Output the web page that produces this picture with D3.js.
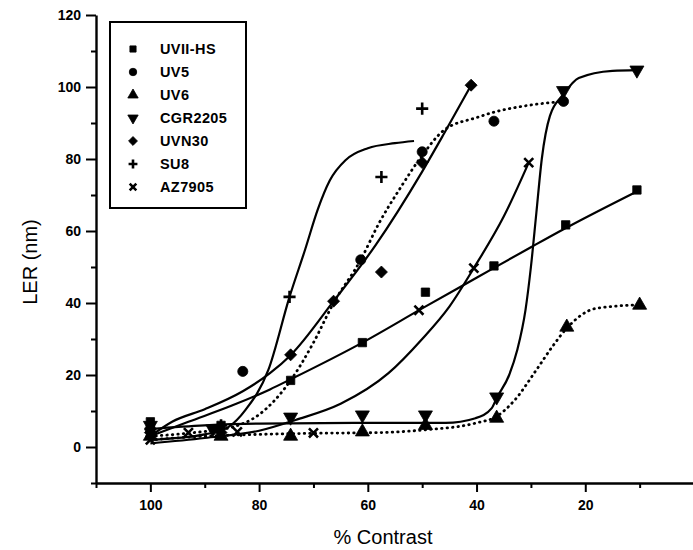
<!DOCTYPE html>
<html>
<head>
<meta charset="utf-8">
<script src="https://cdn.jsdelivr.net/npm/d3@7"></script>
<style>
  html, body { margin: 0; padding: 0; background: #fff; }
  svg { display: block; }
  text { font-family: "Liberation Sans", Arial, Helvetica, sans-serif; fill: #000; }
</style>
</head>
<body>
<svg id="chart" width="693" height="550"></svg>
<script>
// ---------- data ----------
const contrastMajorTicks = [100, 80, 60, 40, 20];
const contrastMinorTicks = [110, 90, 70, 50, 30, 10];
const lerMajorTicks = [0, 20, 40, 60, 80, 100, 120];
const lerMinorTicks = [-10, 10, 30, 50, 70, 90, 110];

const seriesNames = ["UVII-HS", "UV5", "UV6", "CGR2205", "UVN30", "SU8", "AZ7905"];
const seriesDotted = [false, true, true, false, false, false, false];

// measured points [contrast %, LER nm]
const uv2hsPoints = [[100, 7], [87, 6], [74.2, 18.5], [61, 29], [49.4, 43], [36.8, 50.3], [23.6, 61.7], [10.5, 71.4]];
const uv5Points = [[100, 5], [83, 21], [61.3, 52], [50, 82], [36.8, 90.5], [24, 96]];
const uv6Points = [[100, 3], [87, 3], [74.2, 3], [61, 4.2], [49.4, 6], [36.3, 8], [23.4, 33.3], [10, 39.4]];
const cgr2205Points = [[100, 6], [88.5, 5], [74.2, 8.3], [61, 8.9], [49.4, 8.9], [36.3, 13.9], [24, 99], [10.5, 104.7]];
const uvn30Points = [[100, 4], [87, 4], [74.2, 25.6], [66.3, 40.5], [57.5, 48.6], [50, 79], [41, 100.5]];
const su8Points = [[100, 5], [87, 6], [74.4, 41.7], [57.5, 75], [50, 94]];
const az7905Points = [[100, 2], [93, 4], [84, 4.2], [70, 3.9], [50.6, 38], [40.5, 49.7], [30.4, 79]];

// fitted curves drawn through the reference
const uv2hsFit = [[100, 3], [93, 7], [85, 11.5], [78, 16], [74.2, 18.8], [61, 29], [50, 38.5], [40, 47], [30, 55.5], [24, 60.5], [10.5, 71]];
const uv5Fit = [[100, 3], [92, 4], [85, 5.5], [80, 9], [74.2, 18.5], [70, 29], [66.3, 40], [61.3, 52], [58, 62], [54, 72], [50, 81], [46, 88], [40, 91.5], [36.8, 93], [30, 95], [24, 96]];
const uv6Fit = [[100, 2], [90, 3], [80, 3.5], [70, 3.8], [58, 4], [50, 4.7], [40, 6.7], [36.3, 8.5], [33, 13], [29, 21.4], [26, 28], [23.4, 33], [18, 38.5], [10, 39.5]];
const cgr2205Fit = [[100, 5], [90, 6], [80, 6.5], [58, 6.7], [45.7, 6.7], [40.2, 8], [37.2, 10.8], [36.3, 13.6], [34, 20], [32.5, 27], [31, 38], [30, 50], [29, 65], [28, 80], [26.5, 92], [24, 98], [21.2, 102.5], [15, 104.5], [10.5, 104.7]];
const uvn30Fit = [[100, 3], [96, 7], [90, 10.5], [83, 15.5], [78, 20.5], [74.2, 25.5], [66.3, 40.5], [58.6, 56], [50, 76.5], [46, 87], [41, 100.5]];
const su8Fit = [[100, 2], [90, 3.5], [85.6, 5.6], [82.5, 10.3], [78.3, 21.4], [74.4, 41.7], [71.5, 55], [69.2, 66], [67, 74], [64, 79.8], [60, 83], [55, 84.4], [51.5, 85]];
const az7905Fit = [[100, 1], [90, 2.5], [80, 4.5], [73.3, 7.5], [65, 12], [56.2, 20.5], [50, 30], [45, 39], [40.5, 49.7], [35, 64], [30.4, 79]];

const allPoints = [uv2hsPoints, uv5Points, uv6Points, cgr2205Points, uvn30Points, su8Points, az7905Points];
const allFits = [uv2hsFit, uv5Fit, uv6Fit, cgr2205Fit, uvn30Fit, su8Fit, az7905Fit];

// ---------- drawing ----------
const svg = d3.select("#chart");
const x = d3.scaleLinear().domain([110, 0]).range([96, 694]);
const y = d3.scaleLinear().domain([-10, 120]).range([483, 15]);

const shapeDefs = [
  { type: d3.symbolSquare, rot: 0, fill: true, size: 70 },
  { type: d3.symbolCircle, rot: 0, fill: true, size: 80 },
  { type: d3.symbolTriangle, rot: 0, fill: true, size: 85 },
  { type: d3.symbolTriangle, rot: 180, fill: true, size: 85 },
  { type: d3.symbolSquare, rot: 45, fill: true, size: 72 },
  { type: d3.symbolPlus || d3.symbolCross, rot: 0, fill: false, size: 50 },
  { type: d3.symbolX || d3.symbolCross, rot: d3.symbolX ? 0 : 45, fill: false, size: 55 }
];
function drawSymbol(g, i, cx, cy, scale) {
  const s = shapeDefs[i];
  const p = g.append("path")
    .attr("d", d3.symbol().type(s.type).size(s.size * scale)())
    .attr("transform", `translate(${cx},${cy}) rotate(${s.rot})`);
  if (s.fill) p.attr("fill", "#000").attr("stroke", "#000").attr("stroke-width", 0.8);
  else p.attr("fill", "none").attr("stroke", "#000").attr("stroke-width", 2.6);
}

const axisStyle = g => {
  g.selectAll(".domain").attr("stroke", "#000").attr("stroke-width", 2.4);
  g.selectAll(".tick line").attr("stroke", "#000").attr("stroke-width", 2);
  g.selectAll(".tick text").attr("font-size", 14).attr("font-weight", "bold")
    .style("font-family", '"Liberation Sans", Arial, sans-serif');
};

svg.append("g").attr("transform", `translate(0,${y(-10)})`)
  .call(d3.axisBottom(x).tickValues(contrastMinorTicks).tickSize(5).tickSizeOuter(0).tickFormat(""))
  .call(axisStyle);
svg.append("g").attr("transform", `translate(0,${y(-10)})`)
  .call(d3.axisBottom(x).tickValues(contrastMajorTicks).tickSize(9).tickSizeOuter(0).tickPadding(8).tickFormat(d3.format("d")))
  .call(axisStyle)
  .call(g => g.select(".domain").remove());

svg.append("g").attr("transform", `translate(${x(110)},0)`)
  .call(d3.axisLeft(y).tickValues(lerMinorTicks).tickSize(5).tickSizeOuter(0).tickFormat(""))
  .call(axisStyle);
svg.append("g").attr("transform", `translate(${x(110)},0)`)
  .call(d3.axisLeft(y).tickValues(lerMajorTicks).tickSize(10).tickSizeOuter(0).tickPadding(5).tickFormat(d3.format("d")))
  .call(axisStyle)
  .call(g => g.select(".domain").remove());

svg.append("text").attr("x", 383).attr("y", 544).attr("text-anchor", "middle")
  .attr("font-size", 20).text("% Contrast");
svg.append("text").attr("transform", "translate(37,262) rotate(-90)").attr("text-anchor", "middle")
  .attr("font-size", 20).text("LER (nm)");

const line = d3.line().x(d => x(d[0])).y(d => y(d[1])).curve(d3.curveMonotoneX);
allFits.forEach((fit, i) => {
  const sorted = fit.slice().sort((a, b) => b[0] - a[0]);
  svg.append("path").datum(sorted)
    .attr("d", line)
    .attr("fill", "none")
    .attr("stroke", "#000")
    .attr("stroke-width", seriesDotted[i] ? 2.8 : 2.2)
    .attr("stroke-linecap", seriesDotted[i] ? "round" : "butt")
    .attr("stroke-dasharray", seriesDotted[i] ? "0.5,5" : null);
});

allPoints.forEach((pts, i) => {
  const g = svg.append("g");
  pts.forEach(d => drawSymbol(g, i, x(d[0]), y(d[1]), 1));
});

const legend = svg.append("g");
legend.append("rect").attr("x", 110).attr("y", 22).attr("width", 136).attr("height", 186)
  .attr("fill", "#fff").attr("stroke", "#000").attr("stroke-width", 2);
seriesNames.forEach((name, i) => {
  const cy = 49 + i * 23.0;
  drawSymbol(legend, i, 133, cy, 0.55);
  legend.append("text").attr("x", 160).attr("y", cy + 5)
    .attr("font-size", 14.5).attr("font-weight", "bold").attr("letter-spacing", 0.4)
    .text(name);
});
</script>
</body>
</html>
